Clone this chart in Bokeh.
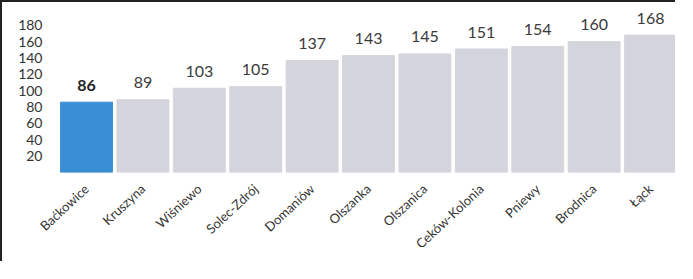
from bokeh.plotting import figure
from bokeh.models import Range1d, FixedTicker, ColumnDataSource
from bokeh.core.properties import value
from bokeh.embed import file_html
from bokeh.resources import INLINE

categories = ["Baćkowice", "Kruszyna", "Wiśniewo", "Solec-Zdrój", "Domaniów",
              "Olszanka", "Olszanica", "Ceków-Kolonia", "Pniewy", "Brodnica", "Łąck"]
values = [86, 89, 103, 105, 137, 143, 145, 151, 154, 160, 168]
y_ticks = [20, 40, 60, 80, 100, 120, 140, 160, 180]
highlight = "Baćkowice"

xs = list(range(len(categories)))
colors = ["#3a8ed6" if c == highlight else "#d4d4dc" for c in categories]
labels = [str(v) for v in values]
weights = ["bold" if c == highlight else "normal" for c in categories]
tcolors = ["#222222" if c == highlight else "#3a3a3a" for c in categories]

src = ColumnDataSource(dict(x=xs, top=values, color=colors, label=labels,
                            weight=weights, tcolor=tcolors))

p = figure(width=675, height=261, output_backend="svg", toolbar_location=None,
           x_range=Range1d(-0.603, 10.478), y_range=Range1d(0, 203),
           min_border_left=50, min_border_right=0, min_border_top=4,
           min_border_bottom=91)
p.styles = {"border-top": "2px solid #222222", "border-left": "2px solid #222222"}
p.outline_line_color = None
p.grid.grid_line_color = None
p.background_fill_color = "white"

p.vbar(x="x", top="top", bottom=0, width=0.92, color="color", source=src)
p.text(x="x", y="top", text="label", source=src, text_align="center",
       text_baseline="middle", y_offset=-17, text_font=value("Lato"),
       text_font_size="16px", text_font_style="weight", text_color="tcolor")

p.yaxis.ticker = FixedTicker(ticks=y_ticks)
p.yaxis.axis_line_color = None
p.yaxis.major_tick_line_color = None
p.yaxis.minor_tick_line_color = None
p.yaxis.major_tick_out = 0
p.yaxis.major_label_standoff = 10
p.yaxis.major_label_text_font = "Lato"
p.yaxis.major_label_text_font_size = "14px"
p.yaxis.major_label_text_color = "#333333"

p.xaxis.ticker = FixedTicker(ticks=xs)
p.xaxis.major_label_overrides = {i: c for i, c in zip(xs, categories)}
p.xaxis.axis_line_color = None
p.xaxis.major_tick_line_color = None
p.xaxis.minor_tick_line_color = None
p.xaxis.major_tick_out = 0
p.xaxis.major_label_standoff = 14
p.xaxis.major_label_orientation = 0.75
p.xaxis.major_label_text_font = "Lato"
p.xaxis.major_label_text_font_size = "13px"
p.xaxis.major_label_text_color = "#333333"

open("out.html", "w").write(file_html(p, INLINE))
